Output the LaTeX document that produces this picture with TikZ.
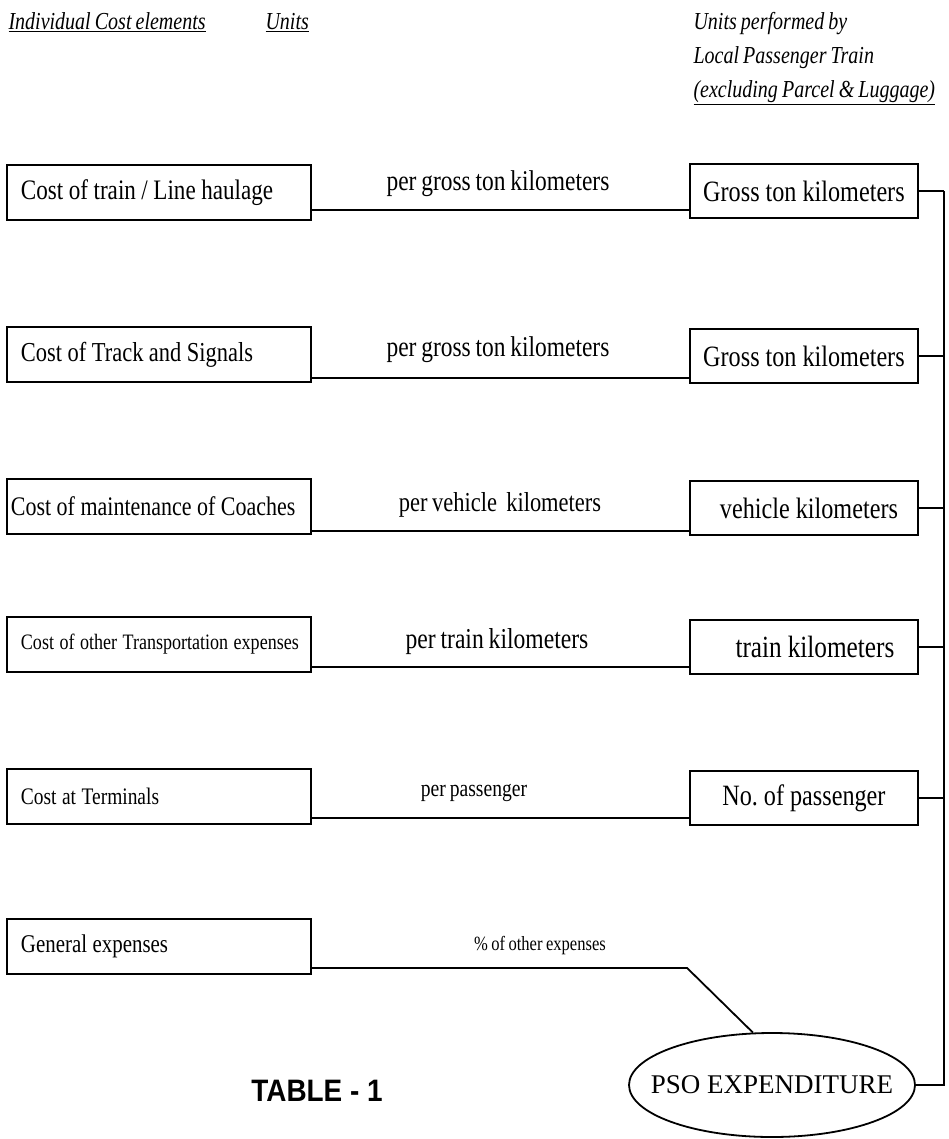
\documentclass[tikz,border=0pt]{standalone}
\usepackage{fontspec}
\setmainfont{Liberation Serif}[FakeStretch=0.82, WordSpace=0.82]
\newfontfamily\plainserif{Liberation Serif}
\newfontfamily\arialfont{Liberation Sans}[FakeStretch=0.9]
\usetikzlibrary{shapes.geometric,calc}
\tikzset{
  lbox/.style={draw, line width=1.9pt, anchor=north west, minimum width=304pt, minimum height=55pt,
    inner xsep=14pt, text width=276pt, align=left, font=\fontsize{28.2}{30}\selectfont,
    execute at begin node={\spaceskip=5.5pt\relax}},
  lboxn/.style={lbox, inner xsep=4pt, text width=296pt},
  rbox/.style={draw, line width=1.9pt, anchor=north west, minimum width=228pt, minimum height=54pt,
    inner xsep=4pt, text width=220pt, align=center, font=\fontsize{29.5}{30}\selectfont,
    execute at begin node={\spaceskip=6pt\relax}},
  ulab/.style={font=\fontsize{28.6}{30}\selectfont},
  hdr/.style={anchor=base west, font=\itshape\fontsize{24.4}{28}\selectfont},
  conn/.style={line width=1.8pt},
  bus/.style={line width=2.2pt},
}
\begin{document}
\begin{tikzpicture}[x=1pt,y=-1pt]
\useasboundingbox (0,0) rectangle (948,1139);
% headers
\node[hdr] (h1) at (5,30) {\underline{Individual Cost elements}};
\node[hdr] (h2) at (262,30) {\underline{Units}};
\node[hdr] (h3) at (690,30) {Units performed by};
\node[hdr] (h4) at (690,64) {Local Passenger Train};
\node[hdr] (h5) at (690,98) {\underline{(excluding Parcel \& Luggage)}};
% left boxes
\node[lbox] (l1) at (6,164) {\mbox{Cost of train / Line haulage}};
\node[lbox, font=\fontsize{27.4}{30}\selectfont] (l2) at (6,326) {\mbox{Cost of Track and Signals}};
\node[lboxn, font=\fontsize{26.8}{30}\selectfont] (l3) at (6,478) {\mbox{Cost of maintenance of Coaches}};
\node[lbox, font=\fontsize{22}{26}\selectfont] (l4) at (6,616) {\mbox{Cost of other Transportation expenses}};
\node[lbox, font=\fontsize{23.7}{26}\selectfont] (l5) at (6,768) {\mbox{Cost at Terminals}};
\node[lbox, font=\fontsize{25.5}{28}\selectfont] (l6) at (6,918) {\mbox{General expenses}};
% right boxes
\node[rbox] (r1) at (689,163) {Gross ton kilometers};
\node[rbox] (r2) at (689,328) {Gross ton kilometers};
\node[rbox] (r3) at (689,480) {\hspace*{10pt}vehicle kilometers};
\node[rbox, font=\fontsize{30.8}{30}\selectfont] (r4) at (689,619) {\hspace*{22pt}train kilometers};
\node[rbox] (r5) at (689,770) {No.\ of passenger};
% unit labels
\node[ulab] (u1) at (498,184) {per gross ton kilometers};
\node[ulab] (u2) at (498,350) {per gross ton kilometers};
\node[ulab, font=\fontsize{27.4}{30}\selectfont] (u3) at (500,505) {per vehicle\ \ kilometers};
\node[ulab, font=\fontsize{28.8}{30}\selectfont] (u4) at (497,642) {per train kilometers};
\node[ulab, font=\fontsize{23.9}{26}\selectfont] (u5) at (474,793) {per passenger};
\node[ulab, font=\fontsize{20.2}{24}\selectfont] (u6) at (540,946) {\% of other expenses};
% PSO
\node[draw, ellipse, line width=1.8pt, inner sep=0pt, minimum width=286pt, minimum height=104pt,
  font=\plainserif\fontsize{27}{30}\selectfont] (pso) at (772,1085)
  {\makebox[180pt][c]{PSO EXPENDITURE}};
\node[font=\arialfont\bfseries\fontsize{31}{34}\selectfont] (tab) at (317,1091) {TABLE - 1};
% connectors left -> right
\draw[conn] ([yshift=11pt]l1.south east) -- ([yshift=11pt]l1.south east -| r1.west);
\draw[conn] ([yshift=5pt]l2.south east) -- ([yshift=5pt]l2.south east -| r2.west);
\draw[conn] ([yshift=4pt]l3.south east) -- ([yshift=4pt]l3.south east -| r3.west);
\draw[conn] ([yshift=6pt]l4.south east) -- ([yshift=6pt]l4.south east -| r4.west);
\draw[conn] ([yshift=7pt]l5.south east) -- ([yshift=7pt]l5.south east -| r5.west);
\coordinate (k) at (687,0);
\draw[conn] ([yshift=7pt]l6.south east) -- ([yshift=7pt]l6.south east -| k) -- (pso.110);
% bus
\coordinate (bx) at (944,0);
\draw[conn] (r1.east) -- (r1.east -| bx);
\draw[conn] (r2.east) -- (r2.east -| bx);
\draw[conn] (r3.east) -- (r3.east -| bx);
\draw[conn] (r4.east) -- (r4.east -| bx);
\draw[conn] (r5.east) -- (r5.east -| bx);
\draw[bus] (r1.east -| bx) -- (pso.east -| bx) -- (pso.east);
\end{tikzpicture}
\end{document}
